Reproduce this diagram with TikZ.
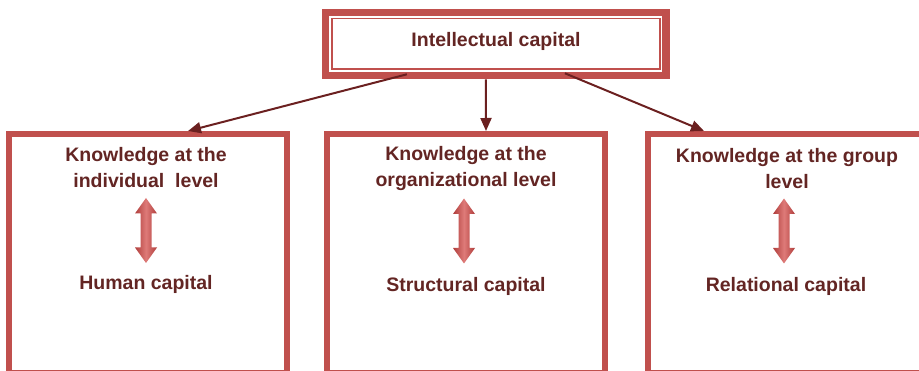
\documentclass[tikz,border=0pt]{standalone}
\usepackage{fontspec}
\setmainfont{Liberation Sans}
\usetikzlibrary{arrows.meta,calc}
\definecolor{boxred}{RGB}{192,80,77}
\definecolor{dbledge}{RGB}{176,62,60}
\definecolor{dblmid}{RGB}{222,122,120}
\definecolor{txtmaroon}{RGB}{99,37,35}
\definecolor{arrmaroon}{RGB}{107,32,32}
\begin{document}
\begin{tikzpicture}[x=1pt,y=-1pt,
  lbl/.style={text=txtmaroon,font=\fontsize{19.5}{26}\selectfont\bfseries,align=center,inner sep=0pt},
  topbox/.style={draw=boxred,line width=7.6pt,minimum width=340.7pt,minimum height=62.8pt,inner sep=0pt},
  lowbox/.style={draw=boxred,line width=6pt,minimum width=278pt,minimum height=239pt,inner sep=0pt},
  conn/.style={draw=arrmaroon,line width=2pt,-{Triangle[length=13pt,width=11pt]}},
  dbl/.pic={
    \shade[left color=dbledge,right color=dbledge,middle color=dblmid]
      (0,-32.5) -- (11,-17) -- (5.5,-17) -- (5.5,17) -- (11,17) -- (0,32.5)
      -- (-11,17) -- (-5.5,17) -- (-5.5,-17) -- (-11,-17) -- cycle;
  }]
\useasboundingbox (0,0) rectangle (919,371);
% boxes
\node[topbox] (top) at (495.9,44.1) {};
\draw[boxred,line width=1.4pt] (332,18.7) rectangle (660,69);
\node[lbl] (ic) at (496,41) {Intellectual capital};
\node[lowbox] (left) at (148,253.5) {};
\node[lowbox] (mid) at (466,253.5) {};
\node[lowbox] (right) at (787,253.5) {};
% connectors
\draw[conn] ($(top.south)+(-89,-5)$) -- ($(left.north)+(40,0)$);
\draw[conn] ($(top.south)+(-10,0)$) -- ($(mid.north)+(20,0)$);
\draw[conn] ($(top.south)+(69,-6)$) -- ($(right.north)+(-83,0)$);
% texts
\node[lbl] (k1) at (146,168) {Knowledge at the\\individual\ \ level};
\node[lbl] (h1) at (146,284) {Human capital};
\node[lbl] (k2) at (466,169) {Knowledge at the\\organizational level};
\node[lbl] (h2) at (466,286) {Structural capital};
\node[lbl] (k3) at (787,169) {Knowledge at the group\\level};
\node[lbl] (h3) at (786,286) {Relational capital};
% double arrows
\pic at (146,230.5) {dbl};
\pic at (464,231) {dbl};
\pic at (784,231) {dbl};
\end{tikzpicture}
\end{document}
